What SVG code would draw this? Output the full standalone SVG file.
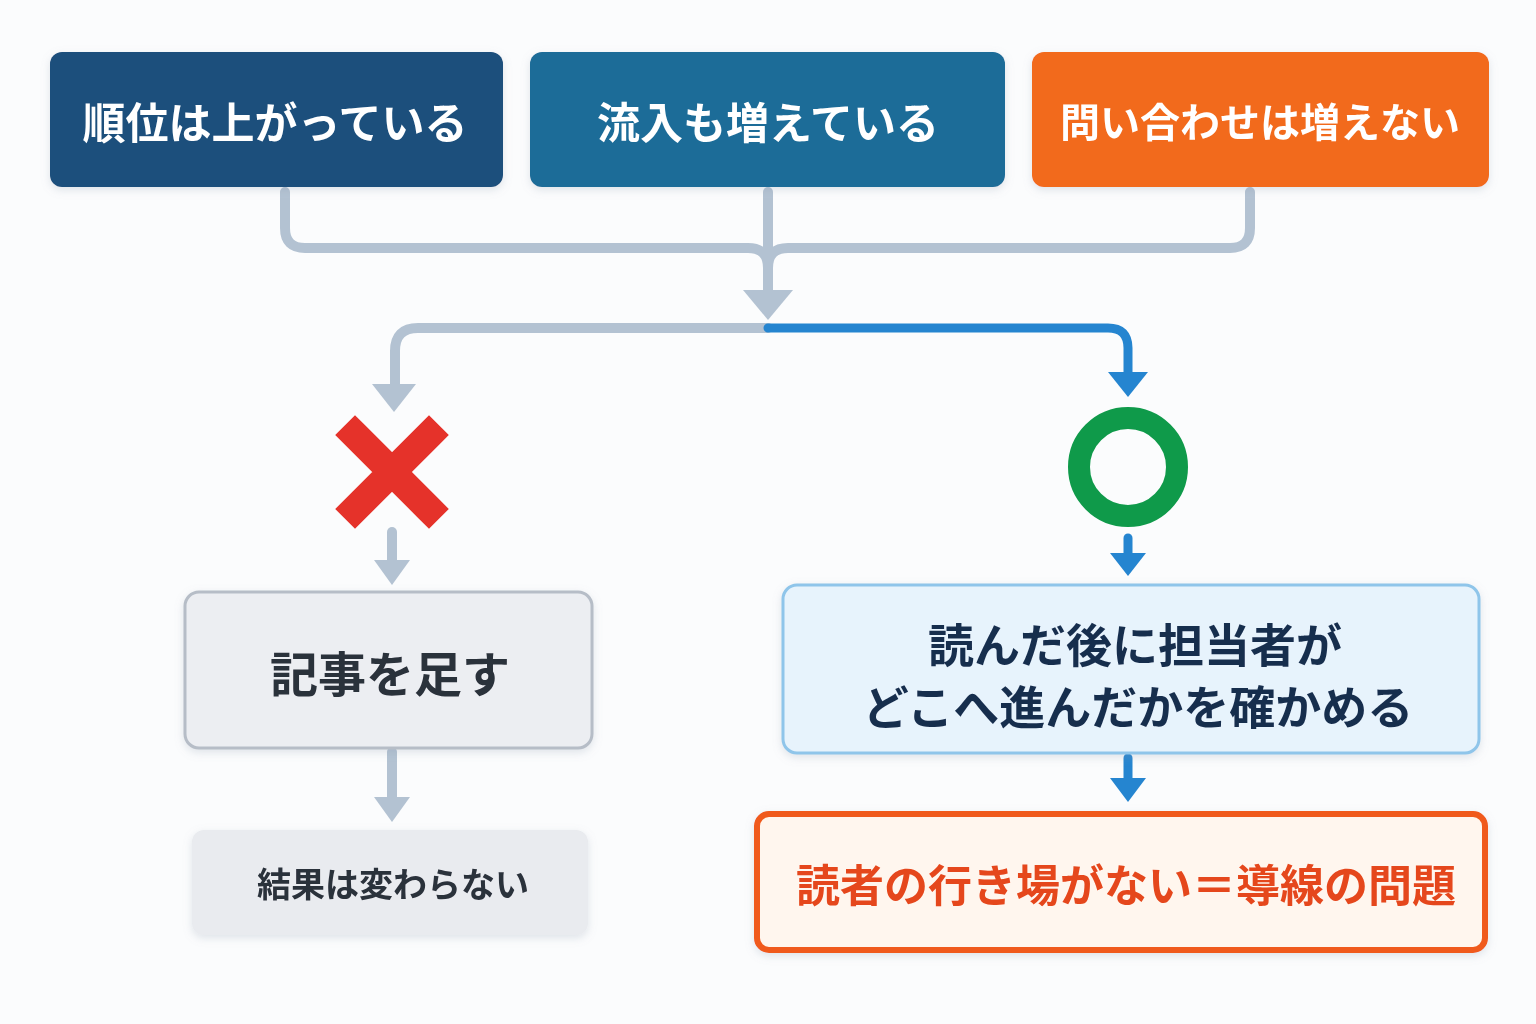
<svg xmlns="http://www.w3.org/2000/svg" width="1536" height="1024" viewBox="0 0 1536 1024">
<defs>
<style>
text{font-family:"Noto Sans CJK JP","Noto Sans",sans-serif;font-weight:700;text-anchor:middle;dominant-baseline:central}
.g{fill:none;stroke:#b3c2d2;stroke-width:10;stroke-linecap:round;stroke-linejoin:round}
.b{fill:none;stroke:#2585d0;stroke-width:9;stroke-linecap:round;stroke-linejoin:round}
</style>
<filter id="sh" x="-10%" y="-10%" width="120%" height="130%"><feDropShadow dx="0" dy="3" stdDeviation="4" flood-color="#8899aa" flood-opacity="0.25"/></filter>
</defs>
<rect width="1536" height="1024" fill="#fbfcfd"/>
<g id="connectors">
<path class="g" d="M285 192V228Q285 248 305 248H748Q768 248 768 268"/>
<path class="g" d="M1250 192V228Q1250 248 1230 248H788Q768 248 768 268"/>
<path class="g" d="M768 192V292"/>
<polygon points="743,290 793,290 768,320" fill="#b3c2d2"/>
<path class="g" d="M768 328H418Q395 328 395 351V385"/>
<polygon points="372,384 416,384 394,412" fill="#b3c2d2"/>
<path class="b" d="M768 328H1108Q1128 328 1128 348V372"/>
<polygon points="1108,372 1148,372 1128,397" fill="#2585d0"/>
<path class="g" d="M392 532V562" stroke-width="8"/>
<polygon points="374,560 410,560 392,585" fill="#b3c2d2"/>
<path class="g" d="M392 752V800" stroke-width="8"/>
<polygon points="374,797 410,797 392,822" fill="#b3c2d2"/>
<path class="b" d="M1128 538V555"/>
<polygon points="1110,553 1146,553 1128,576" fill="#2585d0"/>
<path class="b" d="M1128 758V780"/>
<polygon points="1110,778 1146,778 1128,802" fill="#2585d0"/>
</g>
<g id="n1" filter="url(#sh)"><rect x="50" y="52" width="453" height="135" rx="12" fill="#1c4f7c"/><text x="275" y="120" font-size="43" fill="#fff">順位は上がっている</text></g>
<g id="n2" filter="url(#sh)"><rect x="530" y="52" width="475" height="135" rx="12" fill="#1e6c98"/><text x="768" y="120" font-size="43" fill="#fff">流入も増えている</text></g>
<g id="n3" filter="url(#sh)"><rect x="1032" y="52" width="457" height="135" rx="12" fill="#f26a1b"/><text x="1260" y="120" font-size="40" fill="#fff">問い合わせは増えない</text></g>
<g id="cross"><path d="M355 435L429 509M429 435L355 509" stroke="#e5322a" stroke-width="28" stroke-linecap="square"/></g>
<g id="circle"><circle cx="1128" cy="467" r="49" fill="none" stroke="#0f9a4a" stroke-width="22"/></g>
<g id="n4" filter="url(#sh)"><rect x="185" y="592" width="407" height="156" rx="14" fill="#eceef2" stroke="#b6bdc7" stroke-width="3"/><text x="390" y="671" font-size="48" fill="#2b303b">記事を足す</text></g>
<g id="n5" filter="url(#sh)"><rect x="192" y="830" width="396" height="105" rx="12" fill="#e9ebef"/><text x="393" y="882" font-size="34" fill="#2b303b">結果は変わらない</text></g>
<g id="n6" filter="url(#sh)"><rect x="783" y="585" width="696" height="168" rx="14" fill="#e7f3fc" stroke="#8fc5ea" stroke-width="3"/><text x="1135" y="642" font-size="46" fill="#182d4e">読んだ後に担当者が</text><text x="1138" y="704" font-size="46" fill="#182d4e">どこへ進んだかを確かめる</text></g>
<g id="n7" filter="url(#sh)"><rect x="757" y="814" width="728" height="136" rx="12" fill="#fff6ee" stroke="#f05a1a" stroke-width="6"/><text x="1126" y="883" font-size="44" fill="#e5461b">読者の行き場がない＝導線の問題</text></g>
</svg>
